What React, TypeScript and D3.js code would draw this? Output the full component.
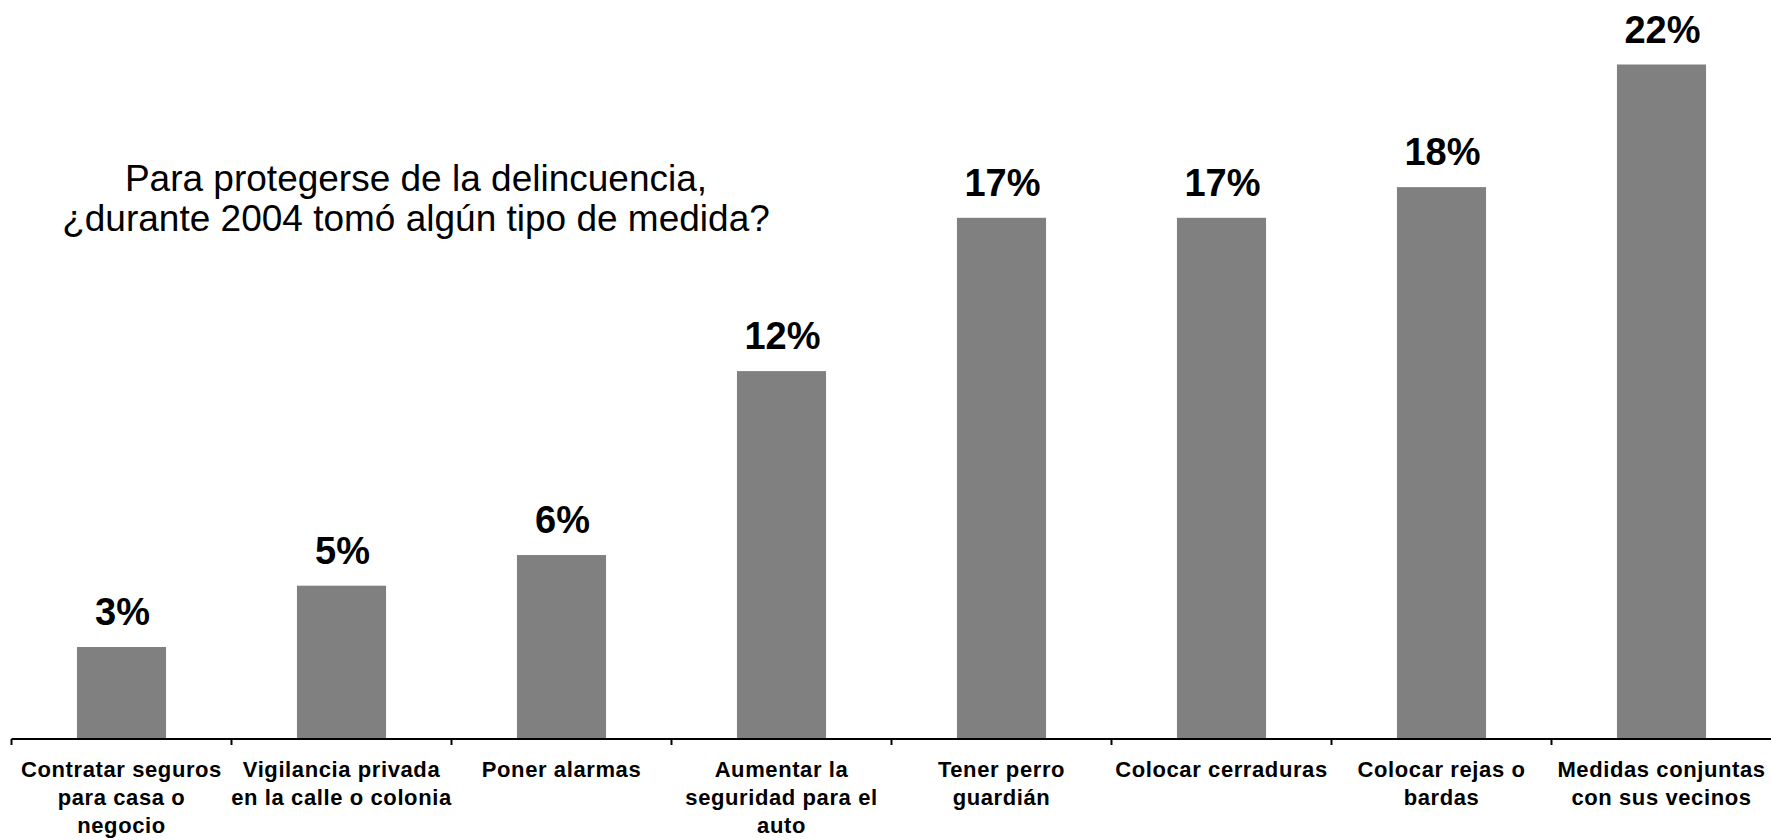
import React from "react";
import * as d3 from "d3";

const categories: string[][] = [
  ["Contratar seguros", "para casa o", "negocio"],
  ["Vigilancia privada", "en la calle o colonia"],
  ["Poner alarmas"],
  ["Aumentar la", "seguridad para el", "auto"],
  ["Tener perro", "guardián"],
  ["Colocar cerraduras"],
  ["Colocar rejas o", "bardas"],
  ["Medidas conjuntas", "con sus vecinos"],
];
const values: number[] = [3, 5, 6, 12, 17, 17, 18, 22];
const valueLabels: string[] = ["3%", "5%", "6%", "12%", "17%", "17%", "18%", "22%"];
const questionLines: string[] = [
  "Para protegerse de la delincuencia,",
  "¿durante 2004 tomó algún tipo de medida?",
];

const W = 1771;
const H = 840;
const FONT = "'Liberation Sans', Arial, Helvetica, sans-serif";

export default function App() {
  const keys = categories.map((_, i) => String(i));
  const x = d3.scaleBand<string>().domain(keys).range([11.5, 1771.5]).padding(0);
  const y = d3.scaleLinear().domain([0, 22]).range([739, 64.5]);
  const bw = x.bandwidth();
  const barW = bw * 0.405;
  const axisY = y(0);

  return (
    <svg
      width={W}
      height={H}
      style={{ position: "absolute", left: 0, top: 0, background: "#fff" }}
      fontFamily={FONT}
    >
      <rect x={0} y={0} width={W} height={H} fill="#fff" />
      {/* Question */}
      <text x={416} y={191} fontSize={37} textAnchor="middle" fill="#000">
        {questionLines[0]}
      </text>
      <text x={416} y={231} fontSize={37} textAnchor="middle" fill="#000">
        {questionLines[1]}
      </text>

      {/* Bars */}
      {values.map((v, i) => {
        const cx = (x(keys[i]) as number) + bw / 2;
        return (
          <g key={i}>
            <rect
              x={cx - barW / 2}
              y={y(v)}
              width={barW}
              height={axisY - y(v)}
              fill="#808080"
            />
            <text
              x={cx + 1}
              y={y(v) - 22}
              fontSize={38}
              fontWeight="bold"
              textAnchor="middle"
              fill="#000"
            >
              {valueLabels[i]}
            </text>
          </g>
        );
      })}

      {/* Axis */}
      <line x1={x(keys[0])} x2={W} y1={axisY} y2={axisY} stroke="#000" strokeWidth={2} />
      {keys.map((k) => (
        <line
          key={k}
          x1={x(k)}
          x2={x(k)}
          y1={axisY}
          y2={axisY + 6}
          stroke="#000"
          strokeWidth={2}
        />
      ))}

      {/* Category labels */}
      {categories.map((lines, i) => {
        const cx = (x(keys[i]) as number) + bw / 2;
        return (
          <text
            key={i}
            fontSize={22}
            fontWeight="bold"
            textAnchor="middle"
            fill="#000"
            letterSpacing={0.6}
          >
            {lines.map((ln, j) => (
              <tspan key={j} x={cx} y={777 + j * 28}>
                {ln}
              </tspan>
            ))}
          </text>
        );
      })}
    </svg>
  );
}
